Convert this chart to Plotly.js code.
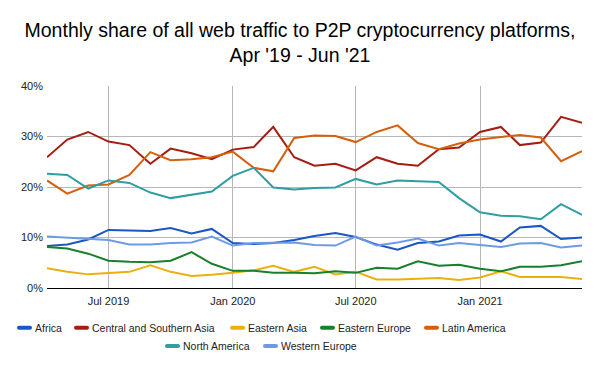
<!DOCTYPE html>
<html>
<head>
<meta charset="utf-8">
<script src="https://cdn.plot.ly/plotly-3.0.1.min.js"></script>
<style>html,body{margin:0;padding:0;background:#fff;}#chart{width:600px;height:371px;}</style>
</head>
<body>
<div id="chart"></div>
<script>
const months = ['2019-04-01','2019-05-01','2019-06-01','2019-07-01','2019-08-01','2019-09-01','2019-10-01','2019-11-01','2019-12-01',
  '2020-01-01','2020-02-01','2020-03-01','2020-04-01','2020-05-01','2020-06-01','2020-07-01','2020-08-01','2020-09-01','2020-10-01',
  '2020-11-01','2020-12-01','2021-01-01','2021-02-01','2021-03-01','2021-04-01','2021-05-01','2021-06-01'];

const africa = [8.3,8.6,9.6,11.5,11.4,11.3,11.9,10.8,11.7,8.9,8.7,8.9,9.5,10.3,10.9,10.1,8.6,7.6,8.9,9.2,10.4,10.6,9.2,12.0,12.3,9.7,10.0];
const centralSouthernAsia = [25.9,29.4,30.9,29.0,28.3,24.6,27.6,26.7,25.5,27.4,27.9,31.9,25.9,24.2,24.6,23.3,25.9,24.6,24.2,27.5,27.8,30.9,31.9,28.3,28.8,33.9,32.7];
const easternAsia = [3.9,3.2,2.7,2.9,3.2,4.5,3.2,2.4,2.6,3.0,3.5,4.4,3.2,4.2,2.7,3.2,1.7,1.7,1.8,2.0,1.6,2.1,3.3,2.2,2.2,2.2,1.8];
const easternEurope = [8.1,7.8,6.8,5.4,5.2,5.1,5.4,7.1,4.8,3.4,3.4,3.0,3.0,2.9,3.3,3.0,4.0,3.8,5.3,4.4,4.6,3.8,3.3,4.2,4.2,4.5,5.3];
const latinAmerica = [21.3,18.7,20.3,20.5,22.4,26.9,25.3,25.5,25.9,27.0,23.8,23.1,29.7,30.2,30.1,28.9,30.9,32.2,28.7,27.5,28.6,29.4,29.9,30.3,29.8,25.1,27.1];
const northAmerica = [22.6,22.4,19.7,21.3,20.8,18.9,17.8,18.5,19.1,22.2,23.8,19.9,19.5,19.8,19.9,21.6,20.5,21.3,21.1,21.0,17.8,15.0,14.3,14.2,13.6,16.6,14.5];
const westernEurope = [10.2,10.0,9.8,9.5,8.6,8.6,8.9,9.0,10.2,8.4,8.9,9.0,9.0,8.5,8.4,10.2,8.4,9.0,9.8,8.4,8.9,8.5,8.1,8.8,8.9,8.0,8.4];

const seriesNames = ['Africa','Central and Southern Asia','Eastern Asia','Eastern Europe','Latin America','North America','Western Europe'];
const seriesValues = [africa, centralSouthernAsia, easternAsia, easternEurope, latinAmerica, northAmerica, westernEurope];
const seriesColors = ['#1a56c4','#a51d12','#ebb00e','#16802b','#d4600e','#2e9ea3','#6d9be3'];

// legend layout: one small legend per series, arranged in two rows like the original
const legendIds = ['legend','legend2','legend3','legend4','legend5','legend6','legend7'];
const legendTextStart = [35, 92, 248, 338, 442, 183, 281]; // px where each label starts
const legendRowY = [-0.125, -0.125, -0.125, -0.125, -0.125, -0.215, -0.215];

const traces = seriesNames.map((n, i) => ({
  type: 'scatter', mode: 'lines', name: n, x: months, y: seriesValues[i],
  line: {color: seriesColors[i], width: 2},
  legend: legendIds[i]
}));

const legendFont = {size: 10.5, color: '#222', family: 'Liberation Sans, Arial, sans-serif'};
const plotLeft = 47, plotWidth = 535;

const layout = {
  width: 600, height: 371,
  margin: {l: 47, r: 18, t: 86, b: 83, autoexpand: false},
  paper_bgcolor: '#fff', plot_bgcolor: '#fff',
  font: {family: 'Liberation Sans, Arial, sans-serif', color: '#222', size: 11},
  title: {text: "Monthly share of all web traffic to P2P cryptocurrency platforms,<br>Apr '19 - Jun '21",
    font: {size: 19.5, color: '#000', family: 'Liberation Sans, Arial, sans-serif'},
    x: 0.5, xanchor: 'center', y: 0.9006, yanchor: 'top'},
  xaxis: {type: 'date', range: [months[0], months[months.length-1]],
    tick0: '2019-07-01', dtick: 'M6', tickformat: '%b %Y',
    showgrid: true, gridcolor: '#b7b7b7', gridwidth: 1,
    showline: false, zeroline: false, ticks: '', ticklabelstandoff: 5,
    tickfont: {size: 11, color: '#222'}},
  yaxis: {range: [0, 40], dtick: 10, ticksuffix: '%',
    showgrid: true, gridcolor: '#b7b7b7', gridwidth: 1,
    zeroline: true, zerolinecolor: '#000', zerolinewidth: 1,
    showline: false, ticks: '', ticklabelstandoff: 3,
    tickfont: {size: 11, color: '#222'}},
  showlegend: true
};
legendIds.forEach((id, i) => {
  layout[id] = {orientation: 'h', xanchor: 'left', yanchor: 'top',
    x: (legendTextStart[i] - 40 - plotLeft) / plotWidth, y: legendRowY[i],
    font: legendFont, itemwidth: 30, bgcolor: 'rgba(0,0,0,0)'};
});

Plotly.newPlot('chart', traces, layout, {displayModeBar: false, staticPlot: true}).then(gd => {
  // compact legend swatches like the original
  gd.querySelectorAll('.legendlines path').forEach(p => {
    p.setAttribute('d', 'M24,0h11');
    p.style.strokeWidth = '4px';
    p.style.strokeLinecap = 'round';
  });
});
</script>
</body>
</html>
